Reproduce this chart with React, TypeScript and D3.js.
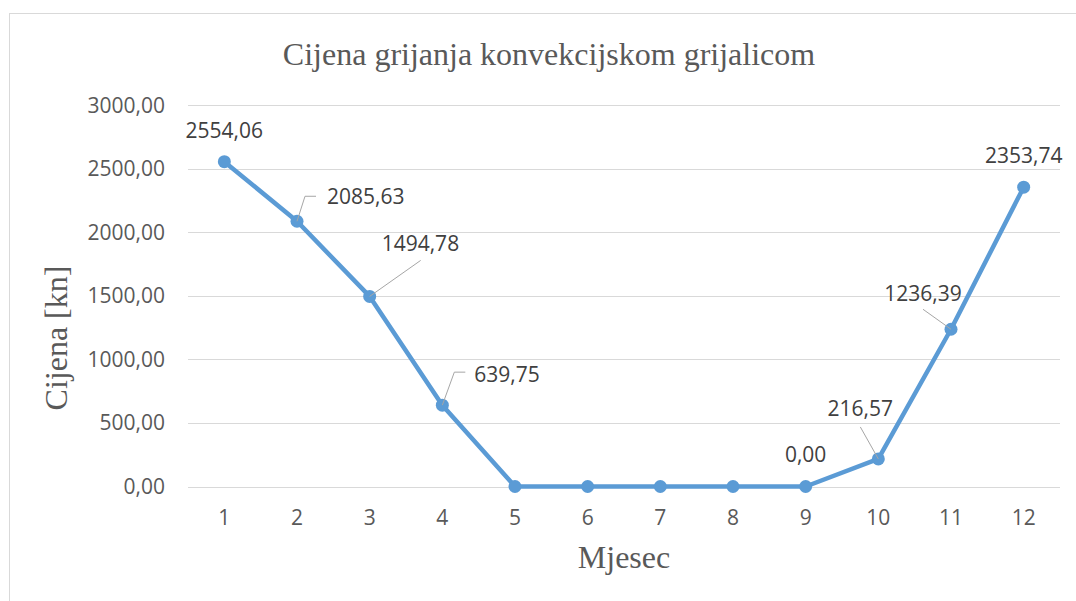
import React from 'react';
import * as d3 from 'd3';

// data
const months = ['1', '2', '3', '4', '5', '6', '7', '8', '9', '10', '11', '12'];
const prices = [2554.06, 2085.63, 1494.78, 639.75, 0, 0, 0, 0, 0, 216.57, 1236.39, 2353.74];
const yTicks = [0, 500, 1000, 1500, 2000, 2500, 3000];
const shownLabels = [true, true, true, true, false, false, false, false, true, true, true, true];

// label placement relative to each point: [dx, dy, anchor], leader path points (relative)
const labelPlace: [number, number, string][] = [
  [0, -31, 'middle'], [30, -25, 'start'], [12, -53, 'start'], [32, -31, 'start'],
  [0, 0, 'middle'], [0, 0, 'middle'], [0, 0, 'middle'], [0, 0, 'middle'],
  [0, -32, 'middle'], [-18, -50, 'middle'], [-28, -36, 'middle'], [0, -32, 'middle'],
];
const leaders: ([number, number][] | null)[] = [
  null, [[8, -25], [19, -25]], [[51, -36]], [[12, -33], [23, -33]],
  null, null, null, null,
  null, [[-18, -32]], [[-28, -20]], null,
];

const W = 1076, H = 601;
const margin = {left: 188, right: 16, top: 105, bottom: 114.5};
const sans = '"Open Sans", sans-serif';
const serif = '"Liberation Serif", "Times New Roman", serif';
const fmt = (v: number) => v.toFixed(2).replace('.', ',');

export default function App() {
  const x = d3.scaleBand().domain(months).range([margin.left, W - margin.right]).padding(0);
  const y = d3.scaleLinear().domain([0, 3000]).range([H - margin.bottom, margin.top]);
  const cx = (i: number) => (x(months[i]) as number) + x.bandwidth() / 2;

  const line = d3.line<number>()
    .x((_, i) => cx(i))
    .y(d => y(d));

  return (
    <svg width={W} height={H} style={{position: 'absolute', left: 0, top: 0}}>
      <rect x={0} y={0} width={W} height={H} fill="#fff" />
      <rect x={9.5} y={13.5} width={W + 20} height={H + 20} fill="#fff" stroke="#d9d9d9" />

      <text x={549} y={65} textAnchor="middle"
            fontFamily={serif} fontSize={32} fill="#595959">
        Cijena grijanja konvekcijskom grijalicom
      </text>

      {yTicks.map(t => (
        <g key={t}>
          <line x1={margin.left} x2={W - margin.right} y1={Math.round(y(t)) + 0.5} y2={Math.round(y(t)) + 0.5}
                stroke="#d9d9d9" strokeWidth={1} />
          <text x={165} y={y(t) + 7.5} textAnchor="end" fontFamily={sans} fontSize={21} fill="#595959">
            {fmt(t)}
          </text>
        </g>
      ))}

      {months.map((m, i) => (
        <text key={m} x={cx(i)} y={525} textAnchor="middle" fontFamily={sans} fontSize={21} fill="#595959">
          {m}
        </text>
      ))}

      <text transform={`translate(67, 338) rotate(-90)`} textAnchor="middle"
            fontFamily={serif} fontSize={32} fill="#595959">
        Cijena [kn]
      </text>
      <text x={(margin.left + W - margin.right) / 2} y={568} textAnchor="middle"
            fontFamily={serif} fontSize={32} fill="#595959">
        Mjesec
      </text>

      <path d={line(prices) || ''} fill="none" stroke="#5b9bd5" strokeWidth={4.5} strokeLinejoin="round" strokeLinecap="round" />
      {prices.map((v, i) => (
        <circle key={i} cx={cx(i)} cy={y(v)} r={6.5} fill="#5b9bd5" />
      ))}

      {prices.map((v, i) => {
        const lead = leaders[i];
        if (!lead) return null;
        const px = cx(i), py = y(v);
        const pts = [[px, py], ...lead.map(([dx, dy]) => [px + dx, py + dy])];
        return (
          <polyline key={'l' + i} points={pts.map(p => p.join(',')).join(' ')}
                    fill="none" stroke="#a6a6a6" strokeWidth={1} />
        );
      })}

      {prices.map((v, i) => {
        if (!shownLabels[i]) return null;
        const [dx, dy, anchor] = labelPlace[i];
        return (
          <text key={'t' + i} x={cx(i) + dx} y={y(v) + dy + 7.5} textAnchor={anchor as any}
                fontFamily={sans} fontSize={21} fill="#404040">
            {fmt(v)}
          </text>
        );
      })}
    </svg>
  );
}
